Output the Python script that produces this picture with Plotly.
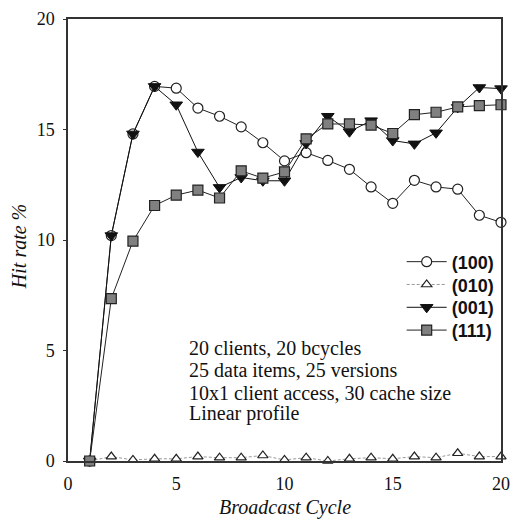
import plotly.graph_objects as go

cycles = list(range(1, 21))
hit_100 = [0, 10.2, 14.8, 16.95, 16.87, 15.97, 15.6, 15.12, 14.4, 13.58,
           13.95, 13.6, 13.2, 12.4, 11.66, 12.7, 12.4, 12.3, 11.12, 10.8]
hit_010 = [0, 0.2, 0.05, 0.1, 0.1, 0.2, 0.15, 0.15, 0.25, 0.05,
           0.15, 0.0, 0.1, 0.15, 0.1, 0.2, 0.15, 0.35, 0.2, 0.2]
hit_001 = [0, 10.2, 14.8, 16.95, 16.12, 13.98, 12.38, 12.83, 12.68, 12.68,
           14.37, 15.6, 14.9, 15.4, 14.5, 14.35, 14.85, 16.0, 16.9, 16.85]
hit_111 = [0, 7.35, 9.95, 11.56, 12.03, 12.26, 11.9, 13.13, 12.8, 13.08,
           14.58, 15.25, 15.25, 15.2, 14.82, 15.67, 15.78, 16.02, 16.08, 16.12]
tick_vals = [0, 5, 10, 15, 20]
note_lines = ["20 clients, 20 bcycles", "25 data items, 25 versions",
              "10x1 client access, 30 cache size", "Linear profile"]

# plot area in pixels: x 68..510, y 15..461
def py(p):
    return (460.7 - p) / 445.7

def px(p):
    return (p - 68) / 442.5

fig = go.Figure()
fig.add_trace(go.Scatter(
    x=cycles, y=hit_010, name="(010)", mode="lines+markers", legend="legend2",
    line=dict(color="#999999", width=1, dash="3px,2px"),
    marker=dict(symbol="triangle-up", size=9, color="white",
                line=dict(color="#222222", width=1.2)),
    cliponaxis=False))
fig.add_trace(go.Scatter(
    x=cycles, y=hit_100, name="(100)", mode="lines+markers", legend="legend",
    line=dict(color="#222222", width=1),
    marker=dict(symbol="circle", size=10, color="white",
                line=dict(color="#222222", width=1.2)),
    cliponaxis=False))
fig.add_trace(go.Scatter(
    x=cycles, y=hit_001, name="(001)", mode="lines+markers", legend="legend3",
    line=dict(color="#111111", width=1),
    marker=dict(symbol="triangle-down", size=11, color="#111111",
                line=dict(color="#111111", width=1)),
    cliponaxis=False))
fig.add_trace(go.Scatter(
    x=cycles, y=hit_111, name="(111)", mode="lines+markers", legend="legend4",
    line=dict(color="#222222", width=1),
    marker=dict(symbol="square", size=10, color="#808080",
                line=dict(color="#222222", width=1.2)),
    cliponaxis=False))

serif = "Liberation Serif"
leg_font = dict(family="Liberation Sans", size=18, color="#111111", weight="bold")
row_y = [260, 283, 306, 329]


def leg(i):
    return dict(x=px(409), y=py(row_y[i]), xanchor="left", yanchor="middle",
                bgcolor="rgba(0,0,0,0)", borderwidth=0, font=leg_font,
                itemwidth=40)


annotations = []
line_y = [347, 369, 392, 413]
for txt, ly in zip(note_lines, line_y):
    annotations.append(dict(
        x=px(190), y=py(ly), xref="paper", yref="paper", xanchor="left",
        yanchor="middle", showarrow=False, text=txt,
        font=dict(family=serif, size=20, color="#111111")))
annotations.append(dict(
    x=0.5, y=py(508), xref="paper", yref="paper", xanchor="center",
    yanchor="middle", showarrow=False, text="<i>Broadcast Cycle</i>",
    font=dict(family=serif, size=20, color="#111111")))
annotations.append(dict(
    x=px(18), y=py(245), xref="paper", yref="paper", xanchor="center",
    yanchor="middle", showarrow=False, textangle=-90, text="<i>Hit rate %</i>",
    font=dict(family=serif, size=20, color="#111111")))

fig.update_layout(
    width=519, height=521,
    margin=dict(l=68, r=9, t=15, b=60),
    paper_bgcolor="white", plot_bgcolor="white",
    showlegend=True,
    legend=leg(0), legend2=leg(1), legend3=leg(2), legend4=leg(3),
    font=dict(family=serif, color="#111111"),
    annotations=annotations,
    hovermode=False,
)
fig.update_xaxes(range=[0, 20], tickvals=tick_vals, showgrid=False, zeroline=False,
                 showline=True, mirror=True, linecolor="#333333", linewidth=1.5,
                 ticks="", ticklabelstandoff=6,
                 tickfont=dict(family=serif, size=18, color="#111111"))
fig.update_yaxes(range=[0, 20], tickvals=tick_vals, showgrid=False, zeroline=False,
                 showline=True, mirror=True, linecolor="#333333", linewidth=1.5,
                 ticks="outside", ticklen=3, tickcolor="#333333",
                 ticklabelstandoff=5,
                 tickfont=dict(family=serif, size=18, color="#111111"))

fig.write_html("out.html",
               config={"displayModeBar": False},
               post_script="document.body.style.margin='0';"
                           "document.body.style.overflow='hidden';")
